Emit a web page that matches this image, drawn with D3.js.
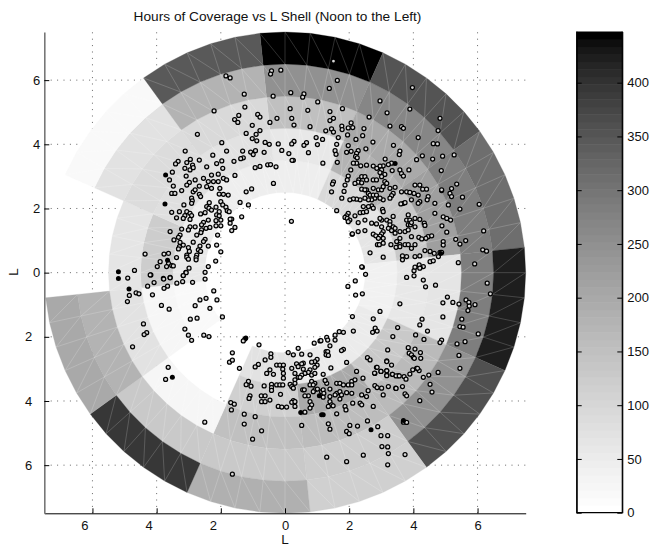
<!DOCTYPE html>
<html lang="en">
<head>
    <title>Hours of Coverage vs L Shell</title>
    <script src="https://d3js.org/d3.v7.min.js"></script>
    <style>
        body { margin: 0; background: #fff; }
        text { font-family: "Liberation Sans", Arial, sans-serif; fill: #111; }
    </style>
</head>
<body>
    <script>
        // ring edges in L and the start of each 30 degree sector (clockwise from the top)
        var ringEdges = [2.5, 3.5, 4.5, 5.5, 6.5, 7.5];
        var sectorStarts = [354, 24, 54, 84, 114, 144, 174, 204, 234, 264, 294, 324];

        // hours of coverage per sector, one list per ring, inner ring first
        var ring1 = [47, 94, 66, 37, 49, 49, 75, 0, 17, 56, 45, 47];
        var ring2 = [56, 176, 131, 56, 131, 201, 113, 0, 27, 122, 80, 75];
        var ring3 = [149, 201, 217, 66, 167, 160, 149, 27, 75, 66, 85, 94];
        var ring4 = [250, 270, 285, 280, 250, 125, 131, 131, 176, 0, 75, 176];
        var ring5 = [443, 354, 309, 422, 362, 113, 184, 396, 201, 0, 17, 346];

        var axisTicks = [-6, -4, -2, 0, 2, 4, 6];
        var colorbarTicks = [0, 50, 100, 150, 200, 250, 300, 350, 400];
        var maxHours = 447.6;

        // satellite positions in L (x, y)
        var pointsUpperRight = [
            [1.51,6.59],[-.13,6.31],[1.63,5.99],[1.38,5.74],[3.97,5.77],[.18,5.61],[.59,5.57],[.55,5.47],[1.02,5.32],[2.96,5.35],
            [.16,5.11],[.71,5.06],[1.40,5.02],[1.79,5.11],[3.89,5.10],[3.18,4.98],[.21,4.81],[1.51,4.81],[1.40,4.74],[2.62,4.85],
            [4.83,4.81],[.28,4.60],[.78,4.55],[2.06,4.67],[1.77,4.57],[1.97,4.51],[2.11,4.52],[1.78,4.46],[1.45,4.48],[1.27,4.42],
            [2.46,4.49],[3.27,4.57],[3.63,4.55],[3.69,4.50],[4.77,4.43],[1.51,4.38],[1.95,4.29],[2.42,4.27],[1.66,4.21],[.97,4.21],
            [1.17,4.15],[2.21,4.15],[4.15,4.21],[.28,4.09],[.21,4.01],[.67,4.05],[.59,3.97],[1.01,3.99],[-.10,3.81],[.12,3.71],
            [.73,3.74],[.26,3.50],[.22,3.50],[1.18,3.41],[1.61,4.00],[1.97,3.96],[2.74,4.07],[3.38,3.97],[4.62,4.02],[4.75,4.01],
            [1.56,3.80],[1.59,3.69],[1.92,3.75],[2.06,3.78],[2.28,3.80],[2.23,3.72],[2.20,3.62],[2.25,3.58],[2.52,3.86],[3.58,3.79],
            [3.56,3.68],[3.12,3.54],[4.28,3.64],[4.10,3.52],[4.60,3.54],[4.91,3.63],[5.27,3.67],[1.63,3.44],[1.51,2.83],[1.48,2.76],
            [1.45,2.52],[.20,1.60],[4.87,3.18],[5.35,2.76],[4.88,2.56],[5.19,2.62],[5.14,2.47],[5.19,2.37],[5.53,2.35],[5.09,2.11],
            [6.05,2.13],[5.45,1.98],[4.93,1.74],[5.04,1.69],[5.16,1.64],[4.89,1.46],[6.19,1.30],[5.04,1.26],[5.32,1.04],[5.63,1.0],
            [5.45,.89],[6.16,.71],[6.28,.67],[5.91,.27],[5.40,.31],[4.93,.97],[4.93,.86],[2.41,.17],[2.51,-.05],[2.09,1.20],
            [1.61,1.93],[4.31,.19],[4.21,.16],[4.02,.06]
        ];
        var pointsRightCluster = [
            [3.32,3.41],[3.22,3.37],[3.06,3.33],[2.96,3.32],[2.75,3.32],[2.86,3.25],[2.54,3.35],[2.36,3.33],[2.23,3.41],[2.13,3.41],
            [2.05,3.20],[3.01,3.2],[3.34,3.18],[3.58,3.2],[3.86,3.2],[3.63,3.09],[3.69,3.01],
            [1.97,3.01],[1.94,2.89],[1.87,2.73],[2.30,2.89],[2.39,2.99],[2.49,2.99],[2.28,2.82],[2.39,2.80],[2.18,2.78],[2.54,2.89],
            [3.11,3.06],[2.96,3.12],[3.01,2.99],[3.11,2.84],[2.75,2.89],[2.85,2.89],[2.54,2.58],[2.60,2.47],[2.75,2.63],[2.91,2.58],
            [3.01,2.58],[3.06,2.68],[3.17,2.78],[3.27,2.63],[3.43,2.66],[3.37,2.47],[3.32,2.40],[3.27,2.32],[3.06,2.27],[2.96,2.32],
            [2.80,2.32],[2.70,2.27],[2.60,2.27],[2.49,2.32],[2.34,2.27],[2.23,2.29],[2.13,2.30],[2.02,2.27],[1.77,2.32],[1.84,2.53],
            [2.39,2.60],[2.49,2.58],[2.65,2.42],[2.75,2.42],[2.85,2.42],[1.97,1.85],[1.92,1.77],[1.87,1.72],[1.94,1.69],[2.02,1.64],
            [1.97,1.59],[2.18,1.77],[2.34,1.87],[2.44,1.88],[2.54,1.90],[2.70,2.08],[2.75,2.01],[2.60,2.06],[2.44,2.06],[3.04,1.97],
            [3.06,1.90],[3.69,2.16],[3.74,2.18],[3.61,2.14],[3.79,2.52],[3.89,2.50],[3.63,2.52],[4.15,2.42],[4.29,2.60],[4.41,2.60],
            [4.05,2.73],[4.20,2.73],[4.46,2.37],[4.43,2.27],[4.20,2.21],[4.15,2.16],[3.94,2.27],[4.02,2.47],[2.49,1.64],[2.28,1.56],
            [3.01,1.64],[2.96,1.69],[3.17,1.64],[3.37,1.75],[3.27,1.59],[3.27,1.49],[3.37,1.43],[3.43,1.38],[3.22,1.38],[3.01,1.43],
            [2.70,1.54],[2.85,1.52],[3.32,1.31],[3.06,1.28],[3.01,1.21],[2.75,1.20],[2.83,1.15],[2.96,1.14],[2.91,1.07],[3.06,1.07],
            [3.43,1.23],[3.58,1.28],[3.74,1.28],[3.84,1.33],[3.79,1.64],[3.89,1.64],[4.05,1.69],[3.84,1.80],[3.84,1.49],[3.91,1.49],
            [3.94,1.56],[4.05,1.43],[4.20,1.66],[4.34,1.54],[4.36,1.47],[4.46,1.12],[4.57,1.15],[4.39,1.07],[4.17,1.10],[4.26,1.05],
            [3.94,1.12],[3.58,1.07],[3.48,.97],[3.58,.87],[3.74,.87],[3.84,.87],[4.05,.87],[3.94,.76],[3.58,.81],[2.88,.87],
            [2.94,.87],[3.06,.92],[3.30,.87],[3.46,.79],[2.65,.62],[3.06,.48],[3.66,.52],[3.79,.50],[3.66,.40],[4.05,.50],
            [4.20,.52],[4.52,.66],[4.36,.69],[4.65,.60],[4.52,.34],[4.62,.37],[4.83,.63],[4.78,.50],[4.88,.63],[2.10,1.21],
            [2.28,1.28],[2.49,1.31],[4.18,.24],[4.20,.14],[4.05,.17],[2.39,.18],[4.67,1.85],[4.67,2.16],[4.88,2.58]
        ];
        var pointsUpperLeft = [
            [-.42,6.29],[-.45,6.19],[-1.84,6.13],[-1.71,6.07],[-1.27,5.56],[-.37,5.5],[-2.21,5.04],[-1.25,5.16],[-1.44,4.90],[-.85,4.93],
            [-.78,4.85],[-.25,4.81],[-.47,4.68],[-1.57,4.77],[-1.47,4.68],[-1.02,4.59],[-.78,4.43],[-.90,4.31],[-1.21,4.34],[-1.02,4.18],
            [-.88,4.11],[-.62,4.06],[-.49,4.0],[-.21,4.01],[-2.73,4.31],[-1.97,4.05],[-1.82,3.79],[-3.11,3.79],[-1.32,3.79],[-1.07,3.76],
            [-.92,3.8],[-.99,3.68],[-.65,3.75],[-1.30,3.58],[-1.38,3.55],[-1.59,3.47],[-2.25,3.66],[-1.97,3.48],[-2.13,3.40],[-2.95,3.53],
            [-2.67,3.51],[-3.06,3.43],[-3.33,3.47],[-3.41,3.39],[-.93,3.27],[-.78,3.31],[-.54,3.36],[-.45,3.37],[-.28,3.30],[-1.56,3.03],
            [-.36,2.78],[-1.04,2.61],[-1.21,2.52],[-1.40,2.19],[-1.14,2.11],[-1.35,1.74],[-2.0,.65],[-2.16,.36],[-4.36,.58],[-4.69,.07],
            [-2.39,.19],[-2.49,.01],[-2.49,-.2],[-1.66,1.67],[-1.56,1.41],[-1.66,1.31],[-1.71,1.54],
            [-2.88,3.35],[-3.12,3.25],[-2.96,3.20],[-2.86,3.27],[-2.44,3.30],[-1.94,3.25],[-3.51,3.13],[-3.08,3.01],[-2.29,3.04],[-2.08,3.07],
            [-2.54,2.94],[-2.39,2.84],[-2.23,2.84],[-2.08,2.84],[-1.92,2.94],[-1.82,2.89],[-2.98,2.81],[-2.80,2.89],[-3.60,2.89],[-3.48,2.70],
            [-3.06,2.73],[-2.67,2.70],[-2.44,2.68],[-2.29,2.63],[-2.03,2.63],[-3.22,2.56],[-3.53,2.47],[-3.43,2.47],[-2.86,2.52],[-2.80,2.58],
            [-2.67,2.44],[-2.63,2.37],[-2.05,2.45],[-1.92,2.44],[-1.77,2.42],[-2.91,2.32],[-2.89,2.24],[-2.91,2.16],[-3.15,2.11],[-2.36,2.18],
            [-2.0,2.21],[-1.94,2.11],[-2.44,2.06],[-2.37,2.01],[-2.29,1.95],[-2.15,2.04],[-2.05,1.90],[-1.84,2.04],[-1.80,1.93],[-1.74,1.90],
            [-3.53,1.88],[-3.29,1.90],[-3.06,1.90],[-2.96,1.85],[-2.63,1.83],[-2.49,1.87],[-3.12,1.78],[-2.91,1.78],[-3.38,1.71],[-3.17,1.69],
            [-2.96,1.66],[-2.13,1.80],[-2.05,1.77],[-1.71,1.67],[-2.15,1.62],[-2.0,1.64],[-2.54,1.57],[-2.39,1.64],[-2.60,1.49],[-2.96,1.43],
            [-2.80,1.43],[-3.22,1.36],[-3.01,1.33],[-2.60,1.33],[-2.46,1.38],[-2.34,1.41],[-2.15,1.46],[-2.0,1.46],[-3.58,1.28],[-2.62,1.25],
            [-3.27,1.17],[-3.32,1.10],[-2.75,1.17],[-2.10,1.17],[-3.46,1.02],[-3.27,.94],[-2.86,.95],[-2.49,1.04],[-2.54,.97],[-2.65,.83],
            [-3.29,.81],[-3.17,.86],[-3.32,.74],[-3.01,.78],[-2.39,.83],[-2.13,.86],[-2.70,.71],[-2.98,.66],[-2.63,.66],[-3.77,.58],
            [-3.63,.60],[-3.06,.55],[-2.75,.55],[-3.89,.34],[-3.38,.47],[-3.06,.48],[-3.01,.42],[-2.77,.47],[-2.77,.40],[-3.63,.29],
            [-3.98,.19],[-3.69,.19],[-3.53,.22],[-3.48,.21],[-2.99,.14],[-3.09,.01],[-3.17,-.09],[-4.18,-.07],[-3.58,-.15],[-3.79,-.18]
        ];
        var pointsLowerLeft = [
            [-4.90,-.17],[-4.20,-.07],[-4.08,-.31],[-4.28,-.42],[-3.78,-.20],[-3.58,-.16],[-3.19,-.28],[-3.08,0],[-3.17,-.09],[-3.37,-.33],
            [-2.88,-.30],[-3.66,-.42],[-3.77,-.49],[-2.22,-.57],[-4.64,-.63],[-4.55,-.66],[-4.85,-.71],[-4.13,-.69],[-4.91,-.90],[-2.46,-.80],
            [-2.65,-.85],[-2.12,-.85],[-2.80,-1.03],[-2.34,-1.11],[-3.85,-1.02],[-3.61,-1.14],[-1.95,-1.38],[-2.95,-1.45],[-2.74,-1.42],[-4.41,-1.60],
            [-3.12,-1.76],[-4.31,-1.87],[-4.39,-1.93],[-3.01,-1.95],[-2.91,-2.11],[-2.53,-1.95],[-2.37,-1.99],[-4.75,-2.31],[-.81,-2.25],[-1.25,-2.07],
            [-1.30,-2.13],[-1.64,-2.50],[-1.73,-2.79],[-1.64,-2.73],[-1.42,-2.98],[-3.64,-2.95],[-3.72,-3.33],[-.83,-2.86],[-.93,-2.94],[-1.14,-3.39],
            [-1.21,-3.49],[-1.06,-3.54],[-1.09,-3.84],[-1.12,-3.92],[-1.69,-4.05],[-1.58,-4.10],[-1.67,-4.28],[-1.27,-4.41],[-.93,-4.49],[-2.50,-4.66],
            [-1.27,-4.72],[-1.01,-5.19],[-1.64,-6.28]
        ];
        var pointsLowerCluster = [
            [.91,-2.20],[1.09,-2.13],[1.40,-2.28],[1.82,-2.39],[1.76,-2.43],[.41,-2.36],[.10,-2.49],[.26,-2.56],[.52,-2.54],[-.44,-2.53],
            [-.44,-2.64],[-.62,-2.72],[1.28,-2.46],[1.33,-2.46],[1.28,-2.56],[1.35,-2.58],[.78,-2.56],[1.0,-2.70],[.93,-2.77],[.83,-2.79],
            [.57,-2.82],[.52,-2.84],[.36,-2.84],[.41,-2.93],[.21,-2.98],[-.26,-2.88],[-.16,-2.88],[-.05,-2.88],[-.07,-3.01],[-.05,-3.14],
            [-.05,-3.29],[-.57,-3.14],[-.47,-3.03],[-.36,-3.17],[1.43,-2.97],[1.0,-2.88],[.93,-2.95],[.78,-3.03],[.73,-3.11],[.83,-3.19],
            [.93,-3.14],[.57,-3.01],[.62,-3.14],[.52,-3.19],[.31,-3.14],[.41,-3.26],[.31,-3.34],[.31,-3.45],[.47,-3.26],[1.19,-3.17],
            [1.92,-2.80],[2.23,-3.08],[2.57,-2.65],[2.65,-2.72],[3.17,-2.75],[2.85,-2.95],[3.17,-3.05],[2.99,-3.08],[2.80,-3.14],[3.17,-3.19],
            [3.34,-3.17],[3.53,-3.21],[2.43,-3.29],[-.65,-3.53],[-.42,-3.48],[-.42,-3.58],[-.42,-3.67],[-.26,-3.50],[-.16,-3.50],[-.07,-3.50],
            [.16,-3.48],[.21,-3.55],[.26,-3.60],[-.14,-3.79],[.55,-3.65],[.60,-3.65],[.83,-3.39],[.93,-3.45],[.78,-3.50],[.88,-3.50],
            [.93,-3.65],[.88,-3.71],[1.01,-3.63],[1.14,-3.71],[1.19,-3.65],[1.21,-3.76],[1.40,-3.63],[1.61,-3.45],[1.30,-3.45],[1.25,-3.36],
            [1.71,-3.45],[1.82,-3.50],[1.97,-3.50],[2.08,-3.39],[2.18,-3.34],[2.08,-3.50],[1.61,-3.76],[1.56,-3.81],[1.71,-3.71],[1.92,-3.74],
            [2.08,-3.76],[1.76,-3.81],[.73,-3.84],[.62,-3.84],[1.19,-3.88],[1.40,-3.86],[1.71,-3.94],[-.74,-3.84],[-.62,-3.84],[-.73,-4.02],
            [-.62,-4.02],[-.47,-3.97],[.26,-3.99],[.21,-4.04],[.31,-4.02],[.78,-4.02],[.83,-4.12],[.78,-4.22],[1.40,-4.02],[1.45,-4.12],
            [1.35,-4.17],[1.50,-4.15],[-.21,-4.17],[-.10,-4.19],[.05,-4.19],[.31,-4.17],[1.87,-4.17],[1.90,-4.28],[2.11,-4.07],[2.34,-4.07],
            [2.39,-4.12],[2.75,-4.17],[2.59,-3.68],[2.39,-3.81],[2.54,-3.86],[2.80,-3.52],[2.87,-3.58],[3.01,-3.60],[3.22,-3.55],[3.45,-3.60],
            [3.06,-3.81],[.62,-4.35],[1.61,-4.40],[2.57,-4.62],[1.35,-4.71],[.52,-4.76],[1.40,-4.88],[2.02,-4.76],[2.26,-4.78],[1.92,-4.95],
            [2.0,-5.02],[2.99,-5.08],[3.20,-5.08],[-.73,-4.93]
        ];
        var pointsLowerRight = [
            [3.79,-.15],[4.02,-.10],[4.31,-.23],[4.38,-.44],[4.69,-.39],[6.30,-.33],[6.40,-.66],[1.96,-.43],[2.19,-.26],[2.20,-.70],
            [2.41,-.66],[3.58,-.97],[5.06,-.76],[4.92,-.94],[5.23,-.93],[5.42,-.98],[5.64,-.85],[5.73,-.93],[5.74,-1.04],[5.92,-1.0],
            [5.70,-1.18],[4.92,-1.38],[5.51,-1.45],[4.27,-1.45],[4.20,-1.63],[2.96,-1.21],[2.75,-1.44],[2.10,-1.37],[5.45,-1.68],[5.55,-1.70],
            [3.51,-1.71],[2.81,-1.73],[2.87,-1.82],[2.73,-1.86],[2.13,-1.82],[1.69,-1.84],[1.82,-1.86],[1.56,-1.95],[1.30,-2.02],[1.12,-2.12],
            [1.33,-2.10],[1.56,-2.10],[4.44,-1.82],[4.07,-1.94],[3.36,-1.99],[4.33,-2.08],[4.88,-2.10],[4.83,-2.18],[5.61,-2.15],[5.36,-2.22],
            [6.02,-1.91],[5.42,-2.58],[5.45,-2.98],[4.77,-3.11],[4.48,-3.19],[4.52,-3.48],[4.58,-3.72],[4.20,-3.99],[3.84,-2.34],[4.05,-2.38],
            [4.22,-2.49],[4.23,-2.67],[3.87,-2.51],[3.94,-2.56],[4.0,-2.64],[4.03,-2.67],[3.2,-2.41],[3.17,-2.77],[3.32,-2.88],[3.98,-3.03],
            [4.10,-2.98],[4.18,-3.05],[4.13,-2.98],[4.31,-3.26],[3.89,-3.16],[3.71,-3.24],[3.77,-3.32],[3.35,-3.17],[3.46,-3.22],[3.56,-3.22],
            [3.17,-3.06],[3.17,-3.21],[2.99,-3.08],[2.79,-3.13],[2.87,-2.95],[3.74,-3.78],[3.79,-3.84],[3.66,-3.55],[3.46,-3.61],[3.69,-4.66],
            [3.79,-4.67],[3.20,-5.43],[3.02,-5.42],[3.22,-5.64],[2.44,-5.69],[3.74,-5.67],[3.20,-5.99],[1.30,-5.75],[1.92,-5.89],[2.89,-4.80]
        ];
        var pointsFilled = [
            [3.43,3.40],[4.85,.60],[-3.72,3.04],[-3.74,2.14],[-3.66,.39],[-5.19,.03],[-5.19,-.18],[-4.86,-.51],[-3.51,-3.26],[-1.22,-2.04],
            [1.07,-3.84],[.49,-4.36],[1.14,-4.43],[1.19,-4.43],[2.68,-4.90],[3.69,-4.61]
        ];

        var rings = [ring1, ring2, ring3, ring4, ring5];
        var allPoints = pointsUpperRight.concat(pointsRightCluster, pointsUpperLeft, pointsLowerLeft, pointsLowerCluster, pointsLowerRight);

        var width = 650, height = 546;

        var svg = d3.select("body").append("svg")
            .attr("width", width)
            .attr("height", height);

        // scales: one L unit is about 32 px
        var x = d3.scaleLinear().domain([-7.5, 7.5]).range([44.3, 525.7]);
        var y = d3.scaleLinear().domain([-7.5, 7.5]).range([513.3, 32]);

        // flipped gray colormap with 64 levels, lightened a bit like the colorbar
        var levels = 64;
        function gray(hours) {
            var level = Math.min(levels - 1, Math.floor(hours / maxHours * levels));
            var g = Math.round(255 * Math.pow(1 - level / (levels - 1), 0.7));
            return d3.rgb(g, g, g).formatHex();
        }

        // position of radius r and clockwise angle a (from the top) in L
        function polar(r, a) {
            var t = a * Math.PI / 180;
            return [r * Math.sin(t), r * Math.cos(t)];
        }
        var line = d3.line().x(function(d) { return x(d[0]); }).y(function(d) { return y(d[1]); });

        // grid goes below the mesh
        var grid = svg.append("g").attr("stroke", "#555").attr("stroke-width", 0.9).attr("stroke-dasharray", "1 5.4");
        axisTicks.forEach(function(t) {
            grid.append("line").attr("x1", x(t)).attr("x2", x(t)).attr("y1", y(-7.5)).attr("y2", y(7.5));
            grid.append("line").attr("x1", x(-7.5)).attr("x2", x(7.5)).attr("y1", y(t)).attr("y2", y(t));
        });

        // filled cells, each cell is 5 steps of 6 degrees
        var steps = 5, stepAngle = 6;
        var cells = svg.append("g");
        var mesh = svg.append("g").attr("stroke", "#fff").attr("stroke-opacity", 0.26).attr("stroke-width", 0.7).attr("fill", "none");
        rings.forEach(function(values, ri) {
            var r0 = ringEdges[ri], r1 = ringEdges[ri + 1];
            values.forEach(function(v, si) {
                var a0 = sectorStarts[si];
                var outer = d3.range(steps + 1).map(function(k) { return polar(r1, a0 + k * stepAngle); });
                var inner = d3.range(steps + 1).map(function(k) { return polar(r0, a0 + k * stepAngle); });
                if (v <= 0) return; // no coverage, stays white
                cells.append("path")
                    .attr("d", line(outer.concat(inner.slice().reverse())) + "Z")
                    .attr("fill", gray(v))
                    .attr("stroke", gray(v))
                    .attr("stroke-width", 0.3);
                // triangle edges show as light lines
                d3.range(steps).forEach(function(k) {
                    if (k > 0) mesh.append("path").attr("d", line([outer[k], inner[k]]));
                    mesh.append("path").attr("d", line([outer[k], inner[k + 1]]));
                });
            });
        });

        // the points
        svg.append("g").selectAll("circle")
            .data(allPoints)
            .enter().append("circle")
            .attr("cx", function(d) { return x(d[0]); })
            .attr("cy", function(d) { return y(d[1]); })
            .attr("r", 2)
            .attr("fill", "#d8d8d8")
            .attr("stroke", "#000")
            .attr("stroke-width", 1.25);
        svg.append("g").selectAll("circle")
            .data(pointsFilled)
            .enter().append("circle")
            .attr("cx", function(d) { return x(d[0]); })
            .attr("cy", function(d) { return y(d[1]); })
            .attr("r", 2.5)
            .attr("fill", "#000");

        // axes, the left side labels had a minus sign once so they sit further left
        var xAxis = svg.append("g")
            .attr("transform", "translate(0," + y(-7.5) + ")")
            .call(d3.axisBottom(x).tickValues(axisTicks).tickSize(-5).tickSizeOuter(0).tickPadding(7).tickFormat(function(d) { return Math.abs(d); }));
        xAxis.selectAll("text").attr("dx", function(d) { return d < 0 ? -8 : 0; });
        var yAxis = svg.append("g")
            .attr("transform", "translate(" + x(-7.5) + ",0)")
            .call(d3.axisLeft(y).tickValues(axisTicks).tickSize(-5).tickSizeOuter(0).tickPadding(4).tickFormat(function(d) { return Math.abs(d); }));
        yAxis.selectAll("text").attr("dx", function(d) { return d < 0 ? -8 : 0; });
        yAxis.select(".domain").attr("stroke", "#777").attr("stroke-width", 1.6);
        svg.selectAll("g.tick text").style("font-size", "13px");

        // colorbar
        var cbar = d3.scaleLinear().domain([0, maxHours]).range([512.7, 31.5]);
        var cbarLeft = 576.7, cbarRight = 622.3;
        svg.append("g").selectAll("rect")
            .data(d3.range(levels))
            .enter().append("rect")
            .attr("x", cbarLeft)
            .attr("width", cbarRight - cbarLeft)
            .attr("y", function(d) { return cbar((d + 1) * maxHours / levels); })
            .attr("height", function(d) { return cbar(d * maxHours / levels) - cbar((d + 1) * maxHours / levels) + 0.5; })
            .attr("fill", function(d) { return gray((d + 0.5) * maxHours / levels); });
        var cbarAxisR = svg.append("g")
            .attr("transform", "translate(" + cbarRight + ",0)")
            .call(d3.axisRight(cbar).tickValues(colorbarTicks).tickSize(-5).tickSizeOuter(0).tickPadding(5));
        cbarAxisR.selectAll("text").style("font-size", "13px");
        svg.append("g")
            .attr("transform", "translate(" + cbarLeft + ",0)")
            .call(d3.axisLeft(cbar).tickValues(colorbarTicks).tickSize(-5).tickSizeOuter(0).tickFormat(""));
        svg.append("path")
            .attr("d", "M" + cbarLeft + "," + cbar(maxHours) + "V" + cbar(0) + "H" + cbarRight + "V" + cbar(maxHours))
            .attr("fill", "none")
            .attr("stroke", "#000")
            .attr("stroke-width", 1.2);

        // title and axis names
        svg.append("text")
            .attr("x", 277.5).attr("y", 21)
            .attr("text-anchor", "middle")
            .style("font-size", "13.7px")
            .text("Hours of Coverage vs L Shell (Noon to the Left)");
        svg.append("text")
            .attr("x", 285).attr("y", 544)
            .attr("text-anchor", "middle")
            .style("font-size", "13.5px")
            .text("L");
        svg.append("text")
            .attr("transform", "translate(18,272) rotate(-90)")
            .attr("text-anchor", "middle")
            .style("font-size", "13.5px")
            .text("L");
    </script>
</body>
</html>
